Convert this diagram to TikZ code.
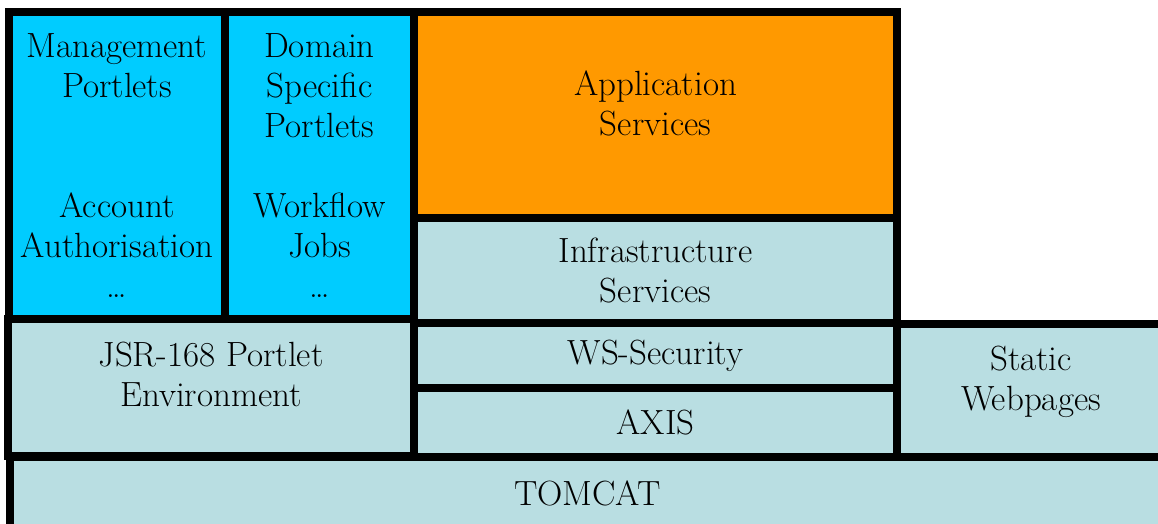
\documentclass[tikz,border=0pt]{standalone}
\usepackage{xcolor}

\definecolor{portletblue}{RGB}{0,204,255}
\definecolor{serviceorange}{RGB}{255,153,0}
\definecolor{stackgrey}{RGB}{185,222,226}

\begin{document}
\begin{tikzpicture}[x=1pt,y=-1pt,
        layer/.style={draw=black,line width=8pt,rectangle,inner sep=0pt,align=center,
            font=\fontsize{35}{40}\selectfont,fill=stackgrey},
        portlet/.style={layer,fill=portletblue},
        service/.style={layer,fill=serviceorange}]

        \clip (0,0) rectangle (1158,523);

        % portlets
        \node[portlet,minimum width=216pt,minimum height=307pt] (mgmt) at (117,165.5)
            {Management\\Portlets\\~\\~\\Account\\Authorisation\\\ldots};
        \node[portlet,minimum width=189pt,minimum height=307pt] (domain) at (319.5,165.5)
            {Domain\\Specific\\Portlets\\~\\Workflow\\Jobs\\\ldots};

        % services
        \node[service,minimum width=483pt,minimum height=206pt,text depth=23pt] (appsvc) at (655.5,115) {Application\\Services};
        \node[layer,minimum width=483pt,minimum height=105pt] (infra) at (655.5,270.5) {Infrastructure\\Services};

        % containers
        \node[layer,minimum width=406pt,minimum height=137pt,text depth=27pt] (jsr) at (211,387.5) {JSR-168 Portlet\\Environment};
        \node[layer,minimum width=483pt,minimum height=65pt] (wssec) at (655.5,355.5) {WS-Security};
        \node[layer,minimum width=483pt,minimum height=69pt] (axis) at (655.5,422.5) {AXIS};
        \node[layer,minimum width=268pt,minimum height=133pt,text depth=25pt] (static) at (1031,390.5) {Static\\Webpages};
        \node[layer,minimum width=1155pt,minimum height=73pt] (tomcat) at (587.5,493.5) {TOMCAT};
    \end{tikzpicture}
\end{document}
